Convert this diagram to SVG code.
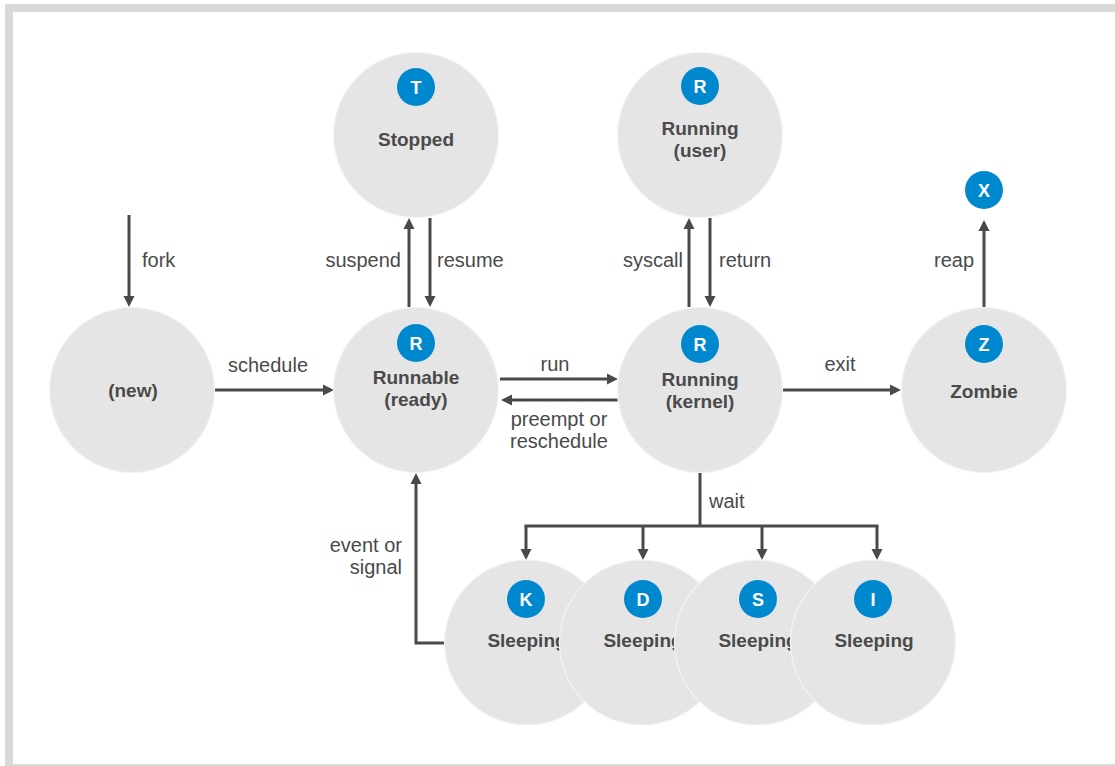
<svg xmlns="http://www.w3.org/2000/svg" width="1115" height="766" viewBox="0 0 1115 766">
<style>
.node{fill:#e5e5e5;stroke:#f4f4f4;stroke-width:1.2}
.badge{fill:#0088ce}
.bt{fill:#fff;font-family:"Liberation Sans",Arial,sans-serif;font-weight:bold;font-size:18px;text-anchor:middle}
.nt{fill:#4a4a4a;font-family:"Liberation Sans",Arial,sans-serif;font-weight:bold;font-size:19px;text-anchor:middle}
.el{fill:#4a4a4a;font-family:"Liberation Sans",Arial,sans-serif;font-size:20px}
.c{fill:none;stroke:#4a4a4a;stroke-width:3}
</style>
<defs>
<marker id="ah" markerUnits="userSpaceOnUse" markerWidth="12" markerHeight="12" viewBox="0 0 12 12" refX="2" refY="6" orient="auto">
<path d="M0,0.5 L11,6 L0,11.5 Z" fill="#4a4a4a"/>
</marker>
</defs>
<g id="frame" fill="#d9d9d9">
<rect x="5" y="4" width="1110" height="8"/>
<rect x="5" y="4" width="8" height="762"/>
<rect x="13" y="764" width="1102" height="2"/>
</g>
<g id="connectors">
<line class="c" x1="129" y1="215" x2="129" y2="298" marker-end="url(#ah)"/>
<line class="c" x1="215" y1="390" x2="325" y2="390" marker-end="url(#ah)"/>
<line class="c" x1="409" y1="307" x2="409" y2="227" marker-end="url(#ah)"/>
<line class="c" x1="430" y1="218" x2="430" y2="298" marker-end="url(#ah)"/>
<line class="c" x1="689" y1="307" x2="689" y2="227" marker-end="url(#ah)"/>
<line class="c" x1="710" y1="218" x2="710" y2="298" marker-end="url(#ah)"/>
<line class="c" x1="500" y1="379" x2="609" y2="379" marker-end="url(#ah)"/>
<line class="c" x1="618" y1="400" x2="510" y2="400" marker-end="url(#ah)"/>
<line class="c" x1="783" y1="390" x2="892" y2="390" marker-end="url(#ah)"/>
<line class="c" x1="984" y1="307" x2="984" y2="229" marker-end="url(#ah)"/>
<polyline class="c" points="444,643 416,643 416,482" marker-end="url(#ah)"/>
<polyline class="c" points="700,472 700,526"/>
<line class="c" x1="524.5" y1="526" x2="878.5" y2="526"/>
<line class="c" x1="526" y1="526" x2="526" y2="551" marker-end="url(#ah)"/>
<line class="c" x1="643" y1="526" x2="643" y2="551" marker-end="url(#ah)"/>
<line class="c" x1="762" y1="526" x2="762" y2="551" marker-end="url(#ah)"/>
<line class="c" x1="877" y1="526" x2="877" y2="551" marker-end="url(#ah)"/>
<text class="el" x="142" y="267">fork</text>
<text class="el" x="268" y="372" text-anchor="middle">schedule</text>
<text class="el" x="401" y="267" text-anchor="end">suspend</text>
<text class="el" x="437" y="267">resume</text>
<text class="el" x="683" y="267" text-anchor="end">syscall</text>
<text class="el" x="719" y="267">return</text>
<text class="el" x="555" y="371" text-anchor="middle">run</text>
<text class="el" x="559" y="426" text-anchor="middle">preempt or</text>
<text class="el" x="559" y="448" text-anchor="middle">reschedule</text>
<text class="el" x="840" y="371" text-anchor="middle">exit</text>
<text class="el" x="974" y="267" text-anchor="end">reap</text>
<text class="el" x="709" y="508">wait</text>
<text class="el" x="402" y="552" text-anchor="end">event or</text>
<text class="el" x="402" y="574" text-anchor="end">signal</text>
</g>
<g id="node-new">
<circle class="node" cx="132" cy="390" r="82.5"/>
<text class="nt" x="133" y="397">(new)</text>
</g>
<g id="node-stopped">
<circle class="node" cx="416" cy="135" r="82.5"/>
<circle class="badge" cx="416" cy="87" r="19"/>
<text class="bt" x="416" y="93.5">T</text>
<text class="nt" x="416" y="146">Stopped</text>
</g>
<g id="node-runnable">
<circle class="node" cx="416" cy="390" r="82.5"/>
<circle class="badge" cx="416" cy="343" r="19"/>
<text class="bt" x="416" y="349.5">R</text>
<text class="nt" x="416" y="384">Runnable</text>
<text class="nt" x="416" y="406">(ready)</text>
</g>
<g id="node-running-user">
<circle class="node" cx="700" cy="135" r="82.5"/>
<circle class="badge" cx="700" cy="86" r="19"/>
<text class="bt" x="700" y="92.5">R</text>
<text class="nt" x="700" y="135">Running</text>
<text class="nt" x="700" y="157">(user)</text>
</g>
<g id="node-running-kernel">
<circle class="node" cx="700" cy="390" r="82.5"/>
<circle class="badge" cx="700" cy="344" r="19"/>
<text class="bt" x="700" y="350.5">R</text>
<text class="nt" x="700" y="386">Running</text>
<text class="nt" x="700" y="408">(kernel)</text>
</g>
<g id="node-zombie">
<circle class="node" cx="984" cy="390" r="82.5"/>
<circle class="badge" cx="984" cy="344" r="19"/>
<text class="bt" x="984" y="350.5">Z</text>
<text class="nt" x="984" y="398">Zombie</text>
</g>
<g id="node-x">
<circle class="badge" cx="984" cy="190" r="19"/>
<text class="bt" x="984" y="196.5">X</text>
</g>
<g id="node-sleep-k">
<circle class="node" cx="527" cy="642.5" r="82.5"/>
<circle class="badge" cx="526" cy="599" r="19"/>
<text class="bt" x="526" y="605.5">K</text>
<text class="nt" x="527" y="647">Sleeping</text>
</g>
<g id="node-sleep-d">
<circle class="node" cx="642" cy="642.5" r="82.5"/>
<circle class="badge" cx="643" cy="599" r="19"/>
<text class="bt" x="643" y="605.5">D</text>
<text class="nt" x="643" y="647">Sleeping</text>
</g>
<g id="node-sleep-s">
<circle class="node" cx="757" cy="642.5" r="82.5"/>
<circle class="badge" cx="758" cy="599" r="19"/>
<text class="bt" x="758" y="605.5">S</text>
<text class="nt" x="758" y="647">Sleeping</text>
</g>
<g id="node-sleep-i">
<circle class="node" cx="873" cy="642.5" r="82.5"/>
<circle class="badge" cx="873" cy="599" r="19"/>
<text class="bt" x="873" y="605.5">I</text>
<text class="nt" x="874" y="647">Sleeping</text>
</g>
</svg>
